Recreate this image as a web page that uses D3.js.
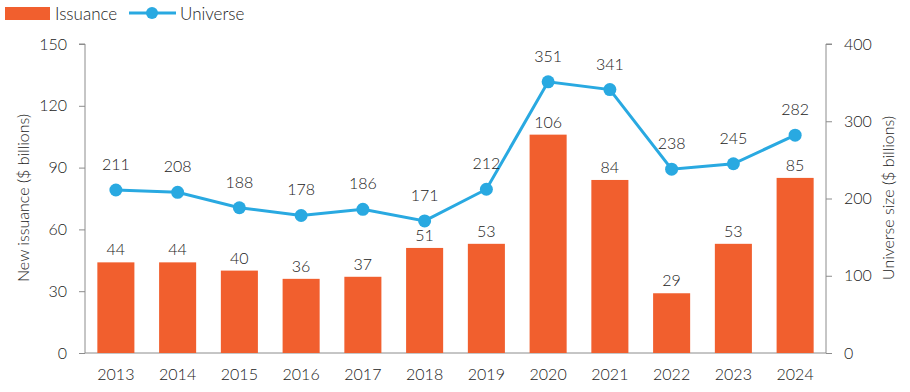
<!DOCTYPE html>
<html>
<head>
<meta charset="utf-8">
<script src="https://cdn.jsdelivr.net/npm/d3@7"></script>
<style>
  body { margin: 0; background: #fff; }
  svg text { font-family: Lato, "Open Sans", sans-serif; font-weight: 300; fill: #222; }
</style>
</head>
<body>
<div id="container"></div>
<script>
const years = ['2013', '2014', '2015', '2016', '2017', '2018', '2019', '2020', '2021', '2022', '2023', '2024'];
const issuance = [44, 44, 40, 36, 37, 51, 53, 106, 84, 29, 53, 85];
const universe = [211, 208, 188, 178, 186, 171, 212, 351, 341, 238, 245, 282];
const leftTicks = [0, 30, 60, 90, 120, 150];
const rightTicks = [0, 100, 200, 300, 400];

const orange = '#f15f2e';
const blue = '#29a9e1';
const axisColor = '#8c8c8c';

const svg = d3.select('#container')
    .append('svg')
    .attr('width', 910)
    .attr('height', 392);

const x = d3.scaleBand().domain(years).range([85, 826]).paddingInner(0.4).paddingOuter(0.2);
const yL = d3.scaleLinear().domain([0, 150]).range([353, 44]);
const yR = d3.scaleLinear().domain([0, 400]).range([353, 44]);

// axes
const left = svg.append('g')
    .attr('transform', 'translate(85,0)')
    .call(d3.axisLeft(yL).tickValues(leftTicks).tickSize(6).tickPadding(12));
const right = svg.append('g')
    .attr('transform', 'translate(826,0)')
    .call(d3.axisRight(yR).tickValues(rightTicks).tickSize(6).tickPadding(12));
const bottom = svg.append('g')
    .attr('transform', 'translate(0,353)')
    .call(d3.axisBottom(x).tickSize(0).tickPadding(16));
[left, right, bottom].forEach(g => {
    g.selectAll('path, line').attr('stroke', axisColor);
    g.selectAll('text').attr('font-size', 16).attr('fill', '#222')
        .attr('font-family', 'Lato, "Open Sans", sans-serif');
});
left.select('.domain').attr('d', 'M-6,44H0V353');
right.select('.domain').attr('d', 'M6,44H0V353');
bottom.select('.domain').attr('d', 'M85,0H826');

// axis titles
svg.append('text')
    .attr('transform', 'translate(29,198) rotate(-90)')
    .attr('text-anchor', 'middle')
    .attr('font-size', 16)
    .text('New issuance ($ billions)');
svg.append('text')
    .attr('transform', 'translate(894,198) rotate(-90)')
    .attr('text-anchor', 'middle')
    .attr('font-size', 16)
    .text('Universe size ($ billions)');

// bars
svg.selectAll('rect.bar')
    .data(issuance)
    .enter()
    .append('rect')
    .attr('class', 'bar')
    .attr('x', (_, i) => x(years[i]))
    .attr('width', x.bandwidth())
    .attr('y', d => yL(d))
    .attr('height', d => yL(0) - yL(d))
    .attr('fill', orange);
svg.selectAll('text.barlab')
    .data(issuance)
    .enter()
    .append('text')
    .attr('class', 'barlab')
    .attr('x', (_, i) => x(years[i]) + x.bandwidth() / 2)
    .attr('y', d => yL(d) - 7)
    .attr('text-anchor', 'middle')
    .attr('font-size', 16)
    .text(d => d);

// line
const cx = i => x(years[i]) + x.bandwidth() / 2;
svg.append('path')
    .datum(universe)
    .attr('fill', 'none')
    .attr('stroke', blue)
    .attr('stroke-width', 3)
    .attr('d', d3.line().x((_, i) => cx(i)).y(d => yR(d)));
svg.selectAll('circle.pt')
    .data(universe)
    .enter()
    .append('circle')
    .attr('class', 'pt')
    .attr('cx', (_, i) => cx(i))
    .attr('cy', d => yR(d))
    .attr('r', 6.5)
    .attr('fill', blue);
svg.selectAll('text.linelab')
    .data(universe)
    .enter()
    .append('text')
    .attr('class', 'linelab')
    .attr('x', (_, i) => cx(i))
    .attr('y', d => yR(d) - 20)
    .attr('text-anchor', 'middle')
    .attr('font-size', 16)
    .text(d => d);

// legend
const lg = svg.append('g');
lg.append('rect').attr('x', 5).attr('y', 7).attr('width', 45).attr('height', 13).attr('fill', orange);
lg.append('text').attr('x', 55).attr('y', 20).attr('font-size', 17).text('Issuance');
lg.append('line').attr('x1', 129).attr('x2', 176).attr('y1', 13).attr('y2', 13)
    .attr('stroke', blue).attr('stroke-width', 3);
lg.append('circle').attr('cx', 152).attr('cy', 13).attr('r', 6).attr('fill', blue);
lg.append('text').attr('x', 180).attr('y', 20).attr('font-size', 17).text('Universe');
</script>
</body>
</html>
